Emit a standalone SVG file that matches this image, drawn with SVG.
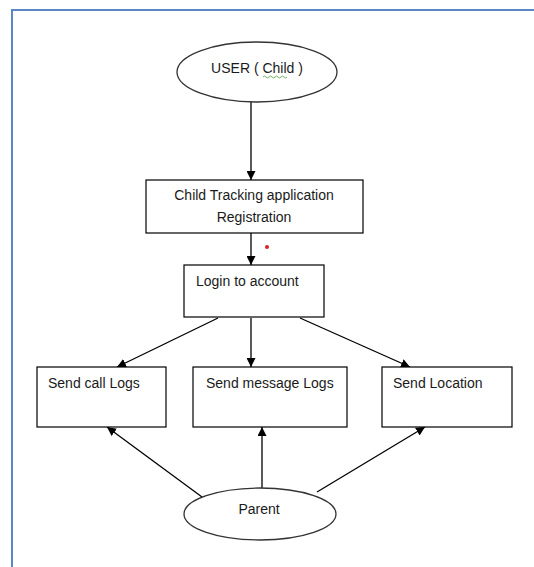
<svg xmlns="http://www.w3.org/2000/svg" width="534" height="567" viewBox="0 0 534 567">
<defs>
<marker id="ah" viewBox="0 0 10 10" refX="10" refY="5" markerWidth="9" markerHeight="9" markerUnits="userSpaceOnUse" orient="auto">
<path d="M0,0 L10,5 L0,10 Z" fill="#000"/>
</marker>
<style>
.n{fill:#fff;stroke:#000;stroke-width:1.2}
.e{fill:#fff;stroke:#333;stroke-width:1.3}
.t{font-family:"Liberation Sans",Arial,sans-serif;font-size:14px;fill:#1a1a1a}
.c{stroke:#000;stroke-width:1.3;fill:none;marker-end:url(#ah)}
</style>
</defs>
<rect width="534" height="567" fill="#fff"/>
<path d="M12,567 V10 H534" fill="none" stroke="#5b87c5" stroke-width="2"/>
<g id="connectors">
<line class="c" x1="251" y1="102" x2="251" y2="180"/>
<line class="c" x1="251" y1="233" x2="251" y2="265"/>
<line class="c" x1="218" y1="318" x2="117" y2="367"/>
<line class="c" x1="251" y1="318" x2="251" y2="367"/>
<line class="c" x1="300" y1="318" x2="410" y2="367"/>
<line class="c" x1="202" y1="497" x2="107" y2="427"/>
<line class="c" x1="262" y1="488" x2="262" y2="427"/>
<line class="c" x1="317" y1="492" x2="425" y2="427"/>
</g>
<g id="user">
<ellipse class="e" cx="257" cy="72" rx="80" ry="30"/>
<text class="t" x="257" y="73" text-anchor="middle">USER ( Child )</text>
<path d="M263,77 q1.5,-2 3,0 t3,0 t3,0 t3,0 t3,0 t3,0 t3,0 t3,0" fill="none" stroke="#4a9a3a" stroke-width="0.8"/>
</g>
<g id="registration">
<rect class="n" x="146" y="180" width="217" height="53"/>
<text class="t" x="254" y="200" text-anchor="middle">Child Tracking application</text>
<text class="t" x="254" y="222" text-anchor="middle">Registration</text>
</g>
<circle cx="267" cy="247" r="2" fill="#e02020"/>
<g id="login">
<rect class="n" x="184" y="265" width="140" height="52"/>
<text class="t" x="196" y="286">Login to account</text>
</g>
<g id="calllogs">
<rect class="n" x="37" y="367" width="129" height="60"/>
<text class="t" x="48" y="388">Send call Logs</text>
</g>
<g id="messagelogs">
<rect class="n" x="193" y="367" width="154" height="60"/>
<text class="t" x="206" y="388">Send message Logs</text>
</g>
<g id="location">
<rect class="n" x="382" y="367" width="130" height="60"/>
<text class="t" x="393" y="388">Send Location</text>
</g>
<g id="parent">
<ellipse class="e" cx="260" cy="514" rx="76" ry="26"/>
<text class="t" x="259" y="514" text-anchor="middle">Parent</text>
</g>
</svg>
